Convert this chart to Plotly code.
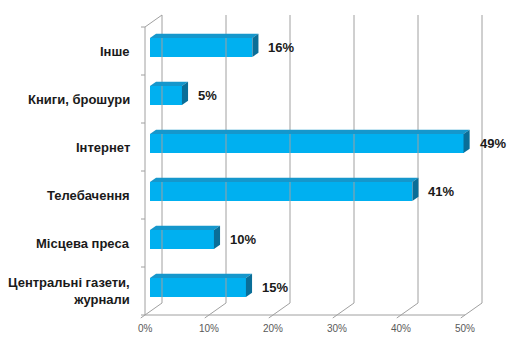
import plotly.graph_objects as go

# ---- data ----
categories = ["Інше", "Книги, брошури", "Інтернет", "Телебачення",
              "Місцева преса", "Центральні газети,<br>журнали"]
values = [16, 5, 49, 41, 10, 15]
x_ticks = [0, 10, 20, 30, 40, 50]
x_tick_labels = ["0%", "10%", "20%", "30%", "40%", "50%"]

# ---- geometry (pixel mapping of the pseudo-3D frame) ----
W, H = 522, 352
PX_X0, PX_PER_X = 145, 6.4       # x=0 at pixel 145
PX_Y0, PX_PER_ROW = 51, 48       # row 0 centre at pixel 51
xr = [-PX_X0 / PX_PER_X, (W - PX_X0) / PX_PER_X]
yr = [(H - PX_Y0) / PX_PER_ROW, -PX_Y0 / PX_PER_ROW]

DX = 17 / PX_PER_X      # full depth vector in data units
DY = -12 / PX_PER_ROW
D_FRONT, D_BACK = 0.29, 0.65
HALF = 9.5 / PX_PER_ROW

FRONT = "#00B0F0"
TOP = "#1597CC"
SIDE = "#0A6E98"
GRID = "#A0A0A0"
FONT = "Liberation Sans, Arial, sans-serif"

n = len(categories)
fig = go.Figure()

def line(xs, ys, color=GRID, width=1):
    fig.add_trace(go.Scatter(x=xs, y=ys, mode="lines", hoverinfo="skip",
                             line=dict(color=color, width=width)))

# back wall gridlines
for t in x_ticks:
    line([t + DX, t + DX], [-0.5 + DY, n - 0.5 + DY])
    line([t, t + DX], [n - 0.5, n - 0.5 + DY])          # floor diagonals
    line([t, t - 0.25 * DX], [n - 0.5, n - 0.5 - 0.25 * DY])  # tick stubs
# floor front edge
line([x_ticks[0], x_ticks[-1]], [n - 0.5, n - 0.5])
# left wall
line([0, 0], [-0.5, n - 0.5])
line([0, DX], [-0.5, -0.5 + DY])
for i in range(n + 1):
    line([-4 / PX_PER_X, 0], [-0.5 + i, -0.5 + i])

# bars
fx, fy = D_FRONT * DX, D_FRONT * DY
bx, by = D_BACK * DX, D_BACK * DY
for i, v in enumerate(values):
    yc = i
    # top face
    fig.add_trace(go.Scatter(
        x=[fx, fx + v, bx + v, bx, fx],
        y=[yc - HALF + fy, yc - HALF + fy, yc - HALF + by, yc - HALF + by, yc - HALF + fy],
        fill="toself", fillcolor=TOP, mode="lines", line=dict(width=0, color=TOP),
        hoverinfo="skip"))
    # side face
    fig.add_trace(go.Scatter(
        x=[fx + v, bx + v, bx + v, fx + v, fx + v],
        y=[yc - HALF + fy, yc - HALF + by, yc + HALF + by, yc + HALF + fy, yc - HALF + fy],
        fill="toself", fillcolor=SIDE, mode="lines", line=dict(width=0, color=SIDE),
        hoverinfo="skip"))

# front faces as real bars
fig.add_trace(go.Bar(
    x=values, y=[i + fy for i in range(n)], base=fx, orientation="h",
    width=2 * HALF, marker=dict(color=FRONT, line=dict(width=0)),
    hovertext=[c.replace("<br>", " ") for c in categories], hoverinfo="text+x"))

annotations = []
for i, c in enumerate(categories):
    annotations.append(dict(x=-13 / PX_PER_X, y=i, text=c, showarrow=False,
                            xanchor="right", yanchor="middle", align="right",
                            font=dict(family=FONT, size=13, color="#1A1A1A",
                                      weight="bold")))
for i, v in enumerate(values):
    annotations.append(dict(x=v + fx + 14 / PX_PER_X, y=i + fy, text=f"{v}%",
                            showarrow=False, xanchor="left", yanchor="middle",
                            font=dict(family=FONT, size=13, color="#1A1A1A",
                                      weight="bold")))
for t, lab in zip(x_ticks, x_tick_labels):
    annotations.append(dict(x=t, y=(328 - PX_Y0) / PX_PER_ROW, text=lab,
                            showarrow=False, xanchor="center", yanchor="middle",
                            font=dict(family=FONT, size=10, color="#595959")))

fig.update_layout(
    width=W, height=H, margin=dict(l=0, r=0, t=0, b=0),
    paper_bgcolor="white", plot_bgcolor="white", showlegend=False,
    xaxis=dict(range=xr, visible=False, fixedrange=True),
    yaxis=dict(range=yr, visible=False, fixedrange=True),
    annotations=annotations, bargap=0,
)
fig.write_html("out.html")
